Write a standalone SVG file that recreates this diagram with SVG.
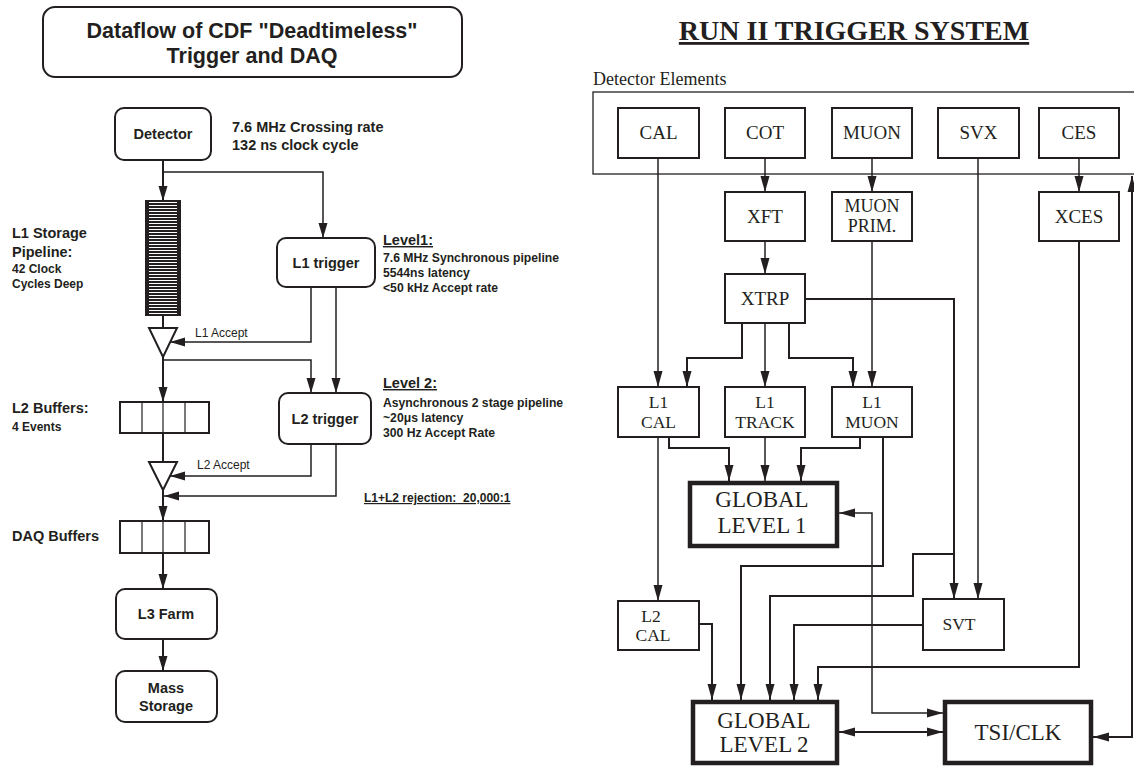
<svg xmlns="http://www.w3.org/2000/svg" width="1134" height="768" viewBox="0 0 1134 768">
<defs>
<style>
.s{font-family:"Liberation Sans",Arial,Helvetica,sans-serif;font-weight:bold;fill:#231f20}
.sr{font-family:"Liberation Sans",Arial,Helvetica,sans-serif;fill:#231f20}
.t{font-family:"Liberation Serif","Times New Roman",serif;fill:#231f20}
.box{fill:#fff;stroke:#231f20;stroke-width:2}
.gbox{fill:#fff;stroke:#231f20;stroke-width:4.5}
.c{fill:none;stroke:#231f20;stroke-width:1.5}
.cl{fill:none;stroke:#231f20;stroke-width:2}
.u{text-decoration:underline}
.pre{white-space:pre}
</style>
<marker id="a" markerUnits="userSpaceOnUse" markerWidth="16" markerHeight="10" viewBox="0 0 16 10" refX="16" refY="5" orient="auto-start-reverse"><path d="M0,0.5 L16,5 L0,9.5 z" fill="#231f20"/></marker>
<marker id="al" markerUnits="userSpaceOnUse" markerWidth="15" markerHeight="10" viewBox="0 0 15 10" refX="15" refY="5" orient="auto-start-reverse"><path d="M0,0.5 L15,5 L0,9.5 z" fill="#231f20"/></marker>
<pattern id="stripes" patternUnits="userSpaceOnUse" x="146" y="201" width="34" height="3"><rect width="34" height="3" fill="#231f20"/><rect x="3" y="1" width="28" height="1" fill="#fff"/></pattern>
</defs>
<rect width="1134" height="768" fill="#fff"/>

<!-- LEFT PANEL -->
<g id="title-left">
<rect x="43" y="7" width="419" height="70" rx="12" class="box"/>
<text x="252" y="38" class="s" font-size="21.5" text-anchor="middle">Dataflow of CDF "Deadtimeless"</text>
<text x="252" y="63" class="s" font-size="21.5" text-anchor="middle">Trigger and DAQ</text>
</g>
<g id="detector">
<rect x="115" y="108" width="96" height="52" rx="9" class="box"/>
<text x="163" y="139" class="s" font-size="14.5" text-anchor="middle">Detector</text>
<text x="232" y="132" class="s" font-size="14.5">7.6 MHz Crossing rate</text>
<text x="232" y="150" class="s" font-size="14.5">132 ns clock cycle</text>
</g>
<g id="pipeline">
<rect x="146" y="201" width="34" height="114" fill="url(#stripes)" stroke="#231f20" stroke-width="2"/>
<text x="12" y="238" class="s" font-size="14.5">L1 Storage</text>
<text x="12" y="257" class="s" font-size="14.5">Pipeline:</text>
<text x="12" y="273" class="s" font-size="12">42 Clock</text>
<text x="12" y="288" class="s" font-size="12">Cycles Deep</text>
</g>
<g id="l1accept-gate">
<polygon points="149,328 177,328 163,357" fill="#fff" stroke="#231f20" stroke-width="2"/>
<text x="195" y="337" class="sr" font-size="12">L1 Accept</text>
</g>
<g id="l1trigger">
<rect x="277" y="238" width="98" height="49" rx="9" class="box"/>
<text x="326" y="268" class="s" font-size="14.5" text-anchor="middle">L1 trigger</text>
<text x="383" y="245" class="s u" font-size="14.5">Level1:</text>
<text x="383" y="262" class="s" font-size="12.2">7.6 MHz Synchronous pipeline</text>
<text x="383" y="277" class="s" font-size="12.2">5544ns latency</text>
<text x="383" y="292" class="s" font-size="12.2">&lt;50 kHz Accept rate</text>
</g>
<g id="l2buffers">
<rect x="120" y="402" width="89" height="31" class="box"/>
<path d="M142,402V433M163,402V433M185,402V433" stroke="#231f20" stroke-width="1.2"/>
<text x="12" y="413" class="s" font-size="14.5">L2 Buffers:</text>
<text x="12" y="431" class="s" font-size="12">4 Events</text>
</g>
<g id="l2trigger">
<rect x="279" y="393" width="92" height="51" rx="9" class="box"/>
<text x="325" y="424" class="s" font-size="14.5" text-anchor="middle">L2 trigger</text>
<text x="383" y="388" class="s u" font-size="14.5">Level 2:</text>
<text x="383" y="407" class="s" font-size="12.2">Asynchronous 2 stage pipeline</text>
<text x="383" y="422" class="s" font-size="12.2">~20μs latency</text>
<text x="383" y="437" class="s" font-size="12.2">300 Hz Accept Rate</text>
</g>
<g id="l2accept-gate">
<polygon points="149,462 177,462 163,490" fill="#fff" stroke="#231f20" stroke-width="2"/>
<text x="197" y="469" class="sr" font-size="12">L2 Accept</text>
<text x="364" y="502" class="s u pre" font-size="12">L1+L2 rejection:  20,000:1</text>
</g>
<g id="daqbuffers">
<rect x="120" y="521" width="89" height="32" class="box"/>
<path d="M142,521V553M163,521V553M185,521V553" stroke="#231f20" stroke-width="1.2"/>
<text x="12" y="541" class="s" font-size="14.5">DAQ Buffers</text>
</g>
<g id="l3farm">
<rect x="116" y="589" width="101" height="50" rx="9" class="box"/>
<text x="166" y="619" class="s" font-size="14.5" text-anchor="middle">L3 Farm</text>
</g>
<g id="massstorage">
<rect x="116" y="671" width="101" height="51" rx="9" class="box"/>
<text x="166" y="693" class="s" font-size="14.5" text-anchor="middle">Mass</text>
<text x="166" y="711" class="s" font-size="14.5" text-anchor="middle">Storage</text>
</g>
<g id="left-connectors" class="cl">
<path d="M163,160V201" marker-end="url(#al)"/>
<path d="M163,172H323V238" marker-end="url(#al)" stroke-width="1.5"/>
<path d="M163,315V328"/>
<path d="M311,287V342H170" marker-end="url(#al)" stroke-width="1.5"/>
<path d="M336,287V393" marker-end="url(#al)" stroke-width="1.5"/>
<path d="M163,357V402" marker-end="url(#al)"/>
<path d="M163,360H311V393" marker-end="url(#al)" stroke-width="1.5"/>
<path d="M163,433V462"/>
<path d="M311,444V476H170" marker-end="url(#al)" stroke-width="1.5"/>
<path d="M336,444V496H164" marker-end="url(#al)" stroke-width="1.5"/>
<path d="M163,490V521" marker-end="url(#al)"/>
<path d="M163,553V589" marker-end="url(#al)"/>
<path d="M163,639V671" marker-end="url(#al)"/>
</g>

<!-- RIGHT PANEL -->
<g id="title-right">
<text x="854" y="40" class="t u" font-size="28" font-weight="bold" text-anchor="middle">RUN II TRIGGER SYSTEM</text>
</g>
<g id="detector-elements">
<text x="593" y="85" class="t" font-size="18">Detector Elements</text>
<rect x="593" y="92" width="545" height="82" fill="none" stroke="#231f20" stroke-width="1.3"/>
</g>
<g id="cal"><rect x="618" y="108" width="81" height="50" class="box"/><text x="658.5" y="139" class="t" font-size="19" text-anchor="middle">CAL</text></g>
<g id="cot"><rect x="725" y="108" width="80" height="50" class="box"/><text x="765" y="139" class="t" font-size="19" text-anchor="middle">COT</text></g>
<g id="muon"><rect x="832" y="108" width="80" height="50" class="box"/><text x="872" y="139" class="t" font-size="19" text-anchor="middle">MUON</text></g>
<g id="svx"><rect x="938" y="108" width="81" height="50" class="box"/><text x="978.5" y="139" class="t" font-size="19" text-anchor="middle">SVX</text></g>
<g id="ces"><rect x="1039" y="108" width="80" height="50" class="box"/><text x="1079" y="139" class="t" font-size="19" text-anchor="middle">CES</text></g>
<g id="xft"><rect x="725" y="192" width="80" height="49" class="box"/><text x="765" y="223" class="t" font-size="19" text-anchor="middle">XFT</text></g>
<g id="muonprim"><rect x="832" y="192" width="80" height="49" class="box"/><text x="872" y="212" class="t" font-size="18" text-anchor="middle">MUON</text><text x="872" y="232" class="t" font-size="18" text-anchor="middle">PRIM.</text></g>
<g id="xces"><rect x="1039" y="192" width="80" height="49" class="box"/><text x="1079" y="223" class="t" font-size="19" text-anchor="middle">XCES</text></g>
<g id="xtrp"><rect x="725" y="274" width="80" height="49" class="box"/><text x="765" y="305" class="t" font-size="19" text-anchor="middle">XTRP</text></g>
<g id="l1cal"><rect x="618" y="387" width="81" height="50" class="box"/><text x="658.5" y="408" class="t" font-size="17.5" text-anchor="middle">L1</text><text x="658.5" y="428" class="t" font-size="17.5" text-anchor="middle">CAL</text></g>
<g id="l1track"><rect x="725" y="387" width="80" height="50" class="box"/><text x="765" y="408" class="t" font-size="17.5" text-anchor="middle">L1</text><text x="765" y="428" class="t" font-size="17.5" text-anchor="middle">TRACK</text></g>
<g id="l1muon"><rect x="832" y="387" width="80" height="50" class="box"/><text x="872" y="408" class="t" font-size="17.5" text-anchor="middle">L1</text><text x="872" y="428" class="t" font-size="17.5" text-anchor="middle">MUON</text></g>
<g id="global1"><rect x="690" y="483" width="147" height="63" class="gbox"/><text x="762" y="507" class="t" font-size="23" text-anchor="middle">GLOBAL</text><text x="762" y="533" class="t" font-size="23" text-anchor="middle">LEVEL 1</text></g>
<g id="l2cal"><rect x="618" y="601" width="81" height="49" class="box"/><text x="651" y="622" class="t" font-size="17.5" text-anchor="middle">L2</text><text x="653" y="641" class="t" font-size="17.5" text-anchor="middle">CAL</text></g>
<g id="svt"><rect x="923" y="599" width="81" height="51" class="box"/><text x="959" y="630" class="t" font-size="17.5" text-anchor="middle">SVT</text></g>
<g id="global2"><rect x="693" y="702" width="144" height="61" class="gbox"/><text x="764" y="728" class="t" font-size="23" text-anchor="middle">GLOBAL</text><text x="764" y="752" class="t" font-size="23" text-anchor="middle">LEVEL 2</text></g>
<g id="tsiclk"><rect x="945" y="702" width="146" height="61" class="gbox"/><text x="1018" y="740" class="t" font-size="23" text-anchor="middle">TSI/CLK</text></g>

<g id="right-connectors" class="c">
<path d="M658,158V387" marker-end="url(#a)"/>
<path d="M765,158V192" marker-end="url(#a)"/>
<path d="M872,158V192" marker-end="url(#a)"/>
<path d="M1079,158V192" marker-end="url(#a)"/>
<path d="M765,241V274" marker-end="url(#a)"/>
<path d="M742,323V358H687V387" marker-end="url(#a)" stroke-width="2"/>
<path d="M765,323V387" marker-end="url(#a)"/>
<path d="M789,323V358H853V387" marker-end="url(#a)" stroke-width="2"/>
<path d="M872,241V387" marker-end="url(#a)"/>
<path d="M805,299H954V599" marker-end="url(#a)" stroke-width="2"/>
<path d="M954,554H913V596H770V700" marker-end="url(#a)" stroke-width="2"/>
<path d="M978,158V599" marker-end="url(#a)"/>
<path d="M669,437V448H729V481" marker-end="url(#a)" stroke-width="2"/>
<path d="M765,437V481" marker-end="url(#a)"/>
<path d="M860,437V448H801V481" marker-end="url(#a)" stroke-width="2"/>
<path d="M658,437V601" marker-end="url(#a)"/>
<path d="M883,437V566H741V700" marker-end="url(#a)" stroke-width="2"/>
<path d="M699,624H712V700" marker-end="url(#a)" stroke-width="2"/>
<path d="M923,625H794V700" marker-end="url(#a)" stroke-width="2"/>
<path d="M1079,241V667H818V700" marker-end="url(#a)" stroke-width="2"/>
<path d="M839,513H872V713H943" marker-start="url(#a)" marker-end="url(#a)"/>
<path d="M839,732H943" marker-start="url(#a)" marker-end="url(#a)" stroke-width="2"/>
<path d="M1093,737H1132V176" marker-start="url(#a)" marker-end="url(#a)" stroke-width="2"/>
</g>
</svg>
